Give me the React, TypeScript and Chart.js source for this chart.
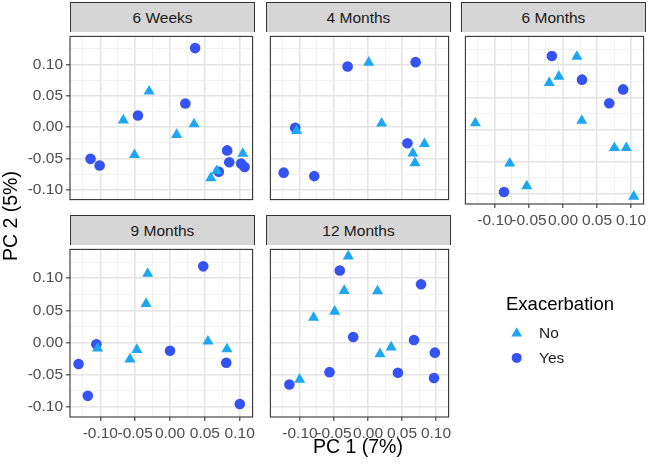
import { useEffect, useRef } from 'react';
import { Chart, registerables } from 'chart.js';
import { drawPoint } from 'chart.js/helpers';

Chart.register(...registerables);

const FONT = "'Liberation Sans', Arial, Helvetica, sans-serif";
Chart.defaults.font.family = FONT;

// facets, groups and ticks
const panelNames = ['6 Weeks', '4 Months', '6 Months', '9 Months', '12 Months'];
const groupNames = ['No', 'Yes'];
const pcTicks = [-0.1, -0.05, 0, 0.05, 0.1];
const pcTickLabels = ['-0.10', '-0.05', '0.00', '0.05', '0.10'];
const pc1MinorTicks = [-0.125, -0.075, -0.025, 0.025, 0.075];
const pc2MinorTicks = [-0.075, -0.025, 0.025, 0.075, 0.125];

type Pt = [number, number]; // [PC 1, PC 2]

const weeks6No: Pt[] = [
  [-0.067, 0.011], [-0.030, 0.057], [-0.051, -0.044], [0.0095, -0.012],
  [0.0345, 0.005], [0.0586, -0.081], [0.067, -0.0695], [0.1044, -0.042],
];
const weeks6Yes: Pt[] = [
  [-0.114, -0.0505], [-0.101, -0.061], [-0.046, 0.0186], [0.022, 0.0377], [0.036, 0.126],
  [0.082, -0.037], [0.085, -0.056], [0.070, -0.071], [0.102, -0.058], [0.107, -0.0635],
];
const months4No: Pt[] = [
  [0.001, 0.103], [-0.105, -0.0056], [0.020, 0.006], [0.066, -0.0418], [0.069, -0.057], [0.083, -0.0267],
];
const months4Yes: Pt[] = [
  [-0.030, 0.0967], [0.070, 0.1036], [-0.107, -0.001], [-0.124, -0.0725], [-0.079, -0.078], [0.058, -0.0257],
];
const months6No: Pt[] = [
  [0.0204, 0.1133], [-0.0061, 0.0825], [-0.0203, 0.0725], [0.0275, 0.014], [-0.1289, 0.010],
  [0.0756, -0.0282], [0.093, -0.0282], [-0.0783, -0.0524], [-0.0533, -0.0876], [0.104, -0.1038],
];
const months6Yes: Pt[] = [
  [-0.0164, 0.1142], [0.0279, 0.0775], [0.0884, 0.0624], [0.068, 0.0408], [-0.0868, -0.0967],
];
const months9No: Pt[] = [
  [-0.032, 0.107], [-0.0344, 0.0604], [-0.1038, -0.009], [-0.0476, -0.011],
  [-0.0575, -0.0257], [0.0544, 0.002], [0.0817, -0.0101],
];
const months9Yes: Pt[] = [
  [0.0477, 0.1183], [-0.1057, -0.0026], [0.0, -0.0126], [-0.1312, -0.0332],
  [0.0807, -0.0312], [-0.118, -0.0826], [0.1001, -0.0952],
];
const months12No: Pt[] = [
  [-0.029, 0.134], [-0.035, 0.0805], [0.014, 0.080], [-0.049, 0.0483],
  [-0.080, 0.0388], [0.034, -0.0071], [0.0176, -0.0177], [-0.1005, -0.0574],
];
const months12Yes: Pt[] = [
  [-0.0415, 0.1118], [0.078, 0.0906], [-0.0217, 0.0086], [0.0676, 0.004], [-0.0566, -0.0458],
  [0.044, -0.0468], [-0.1156, -0.065], [0.0983, -0.0156], [0.097, -0.0548],
];

const noByPanel = [weeks6No, months4No, months6No, months9No, months12No];
const yesByPanel = [weeks6Yes, months4Yes, months6Yes, months9Yes, months12Yes];

const PC1_MIN = -0.1435;
const PC1_MAX = 0.1185;
const PC2_MIN = -0.1154;
const PC2_MAX = 0.1446;

// layout
const COL_LEFT = [70, 266, 461];
const PLOT_TOP = [32, 245];
const PLOT_W = 185;
const PLOT_H = 172;
const STRIP_H = 30;
const Y_AXIS_W = 70;
const X_AXIS_H = 32;
const PAD = 2;
const RIGHT_PAD = 4;

const NO_COLOR = '#1DA6F1';
const YES_COLOR = '#3552F2';
const MAJOR_GRID = '#E4E4E4';
const MINOR_GRID = '#F0F0F0';
const INK = '#333333';

const isMajor = (v: number) => pcTicks.some((t) => Math.abs(t - v) < 1e-9);
const tickLabel = (v: number) => {
  const i = pcTicks.findIndex((t) => Math.abs(t - v) < 1e-9);
  return i < 0 ? '' : pcTickLabels[i];
};

const framePlugin = {
  id: 'panelFrame',
  afterDraw(chart: Chart) {
    const { ctx, chartArea } = chart;
    ctx.save();
    ctx.strokeStyle = INK;
    ctx.lineWidth = 1.1;
    ctx.strokeRect(chartArea.left, chartArea.top, chartArea.right - chartArea.left, chartArea.bottom - chartArea.top);
    ctx.restore();
  },
};

function axis(showLabels: boolean, min: number, max: number, minor: number[], horizontal: boolean) {
  return {
    type: 'linear' as const,
    min,
    max,
    afterBuildTicks: (s: any) => {
      s.ticks = [...pcTicks, ...minor].sort((a, b) => a - b).map((value) => ({ value }));
    },
    afterFit: (s: any) => {
      if (horizontal) s.height = showLabels ? X_AXIS_H : 0;
      else s.width = showLabels ? Y_AXIS_W : 0;
      s.paddingLeft = 0;
      s.paddingRight = 0;
      s.paddingTop = 0;
      s.paddingBottom = 0;
    },
    ticks: {
      display: showLabels,
      autoSkip: false,
      maxRotation: 0,
      minRotation: 0,
      padding: 3,
      color: '#4D4D4D',
      font: { size: 15.5 },
      callback: (v: any) => tickLabel(Number(v)),
    },
    grid: {
      color: (c: any) => (isMajor(c.tick?.value) ? MAJOR_GRID : MINOR_GRID),
      lineWidth: (c: any) => (isMajor(c.tick?.value) ? 1.6 : 0.9),
      drawTicks: true,
      tickLength: 4,
      tickWidth: 1.1,
      tickColor: (c: any) => (showLabels && isMajor(c.tick?.value) ? INK : 'rgba(0,0,0,0)'),
    },
    border: { display: false },
  };
}

function Panel({ index }: { index: number }) {
  const ref = useRef<HTMLCanvasElement>(null);
  const row = Math.floor(index / 3);
  const col = index % 3;
  const showY = col === 0;
  const showX = row === 1 || col === 2;
  const leftSpace = showY ? Y_AXIS_W : PAD;
  const bottomSpace = showX ? X_AXIS_H : PAD;

  useEffect(() => {
    if (!ref.current) return;
    const chart = new Chart(ref.current, {
      type: 'scatter',
      data: {
        datasets: [
          {
            label: groupNames[0],
            data: noByPanel[index].map(([x, y]) => ({ x, y })),
            pointStyle: 'triangle',
            pointRadius: 6.4,
            pointHoverRadius: 6.4,
            backgroundColor: NO_COLOR,
            borderWidth: 0,
          },
          {
            label: groupNames[1],
            data: yesByPanel[index].map(([x, y]) => ({ x, y })),
            pointStyle: 'circle',
            pointRadius: 5.3,
            pointHoverRadius: 5.3,
            backgroundColor: YES_COLOR,
            borderWidth: 0,
          },
        ],
      },
      options: {
        animation: false,
        responsive: true,
        maintainAspectRatio: false,
        layout: {
          padding: { left: showY ? 0 : PAD, top: PAD, right: RIGHT_PAD, bottom: showX ? 0 : PAD },
        },
        scales: {
          x: axis(showX, PC1_MIN, PC1_MAX, pc1MinorTicks, true),
          y: axis(showY, PC2_MIN, PC2_MAX, pc2MinorTicks, false),
        },
        plugins: { legend: { display: false }, tooltip: { enabled: false } },
      },
      plugins: [framePlugin],
    });
    return () => chart.destroy();
  }, [index]);

  return (
    <>
      <div
        style={{
          position: 'absolute',
          left: COL_LEFT[col],
          top: PLOT_TOP[row] - STRIP_H,
          width: PLOT_W,
          height: STRIP_H,
          boxSizing: 'border-box',
          border: `1px solid ${INK}`,
          borderBottom: 'none',
          background: '#D6D6D6',
          color: '#1A1A1A',
          fontSize: 15.5,
          lineHeight: `${STRIP_H}px`,
          textAlign: 'center',
        }}
      >
        {panelNames[index]}
      </div>
      <div
        style={{
          position: 'absolute',
          left: COL_LEFT[col] - leftSpace,
          top: PLOT_TOP[row] - PAD,
          width: leftSpace + PLOT_W + RIGHT_PAD,
          height: PAD + PLOT_H + bottomSpace,
        }}
      >
        <canvas ref={ref} />
      </div>
    </>
  );
}

const legendPlugin = {
  id: 'exacerbationLegend',
  afterDraw(chart: Chart) {
    const ctx = chart.ctx;
    const colors = [NO_COLOR, YES_COLOR];
    const styles = ['triangle', 'circle'];
    const radii = [6.2, 5.0];
    ctx.save();
    ctx.textAlign = 'left';
    ctx.textBaseline = 'middle';
    ctx.fillStyle = '#000000';
    ctx.font = `18.5px ${FONT}`;
    ctx.fillText('Exacerbation', 16, 20);
    groupNames.forEach((g, i) => {
      const y = 48.5 + i * 24.4;
      ctx.fillStyle = colors[i];
      drawPoint(ctx, { pointStyle: styles[i] as any, radius: radii[i], rotation: 0, borderWidth: 0 }, 26.7, y);
      ctx.fillStyle = '#1A1A1A';
      ctx.font = `15.5px ${FONT}`;
      ctx.fillText(g, 49, y + 0.5);
    });
    ctx.restore();
  },
};

function Legend() {
  const ref = useRef<HTMLCanvasElement>(null);
  useEffect(() => {
    if (!ref.current) return;
    const chart = new Chart(ref.current, {
      type: 'scatter',
      data: { datasets: [] },
      options: {
        animation: false,
        responsive: true,
        maintainAspectRatio: false,
        scales: { x: { display: false }, y: { display: false } },
        plugins: { legend: { display: false }, tooltip: { enabled: false } },
      },
      plugins: [legendPlugin],
    });
    return () => chart.destroy();
  }, []);
  return (
    <div style={{ position: 'absolute', left: 490, top: 285, width: 160, height: 90 }}>
      <canvas ref={ref} />
    </div>
  );
}

export default function App() {
  return (
    <div
      style={{
        position: 'absolute',
        left: 0,
        top: 0,
        width: 650,
        height: 467,
        background: '#ffffff',
        fontFamily: FONT,
        overflow: 'hidden',
      }}
    >
      {panelNames.map((_, i) => (
        <Panel key={i} index={i} />
      ))}
      <Legend />
      <div
        style={{
          position: 'absolute',
          left: 70,
          top: 434,
          width: 576,
          height: 24,
          lineHeight: '24px',
          fontSize: 19.5,
          textAlign: 'center',
          color: '#000',
        }}
      >
        PC 1 (7%)
      </div>
      <div
        style={{
          position: 'absolute',
          left: -90,
          top: 204,
          width: 200,
          height: 24,
          lineHeight: '24px',
          fontSize: 19.5,
          textAlign: 'center',
          color: '#000',
          transform: 'rotate(-90deg)',
        }}
      >
        PC 2 (5%)
      </div>
    </div>
  );
}
